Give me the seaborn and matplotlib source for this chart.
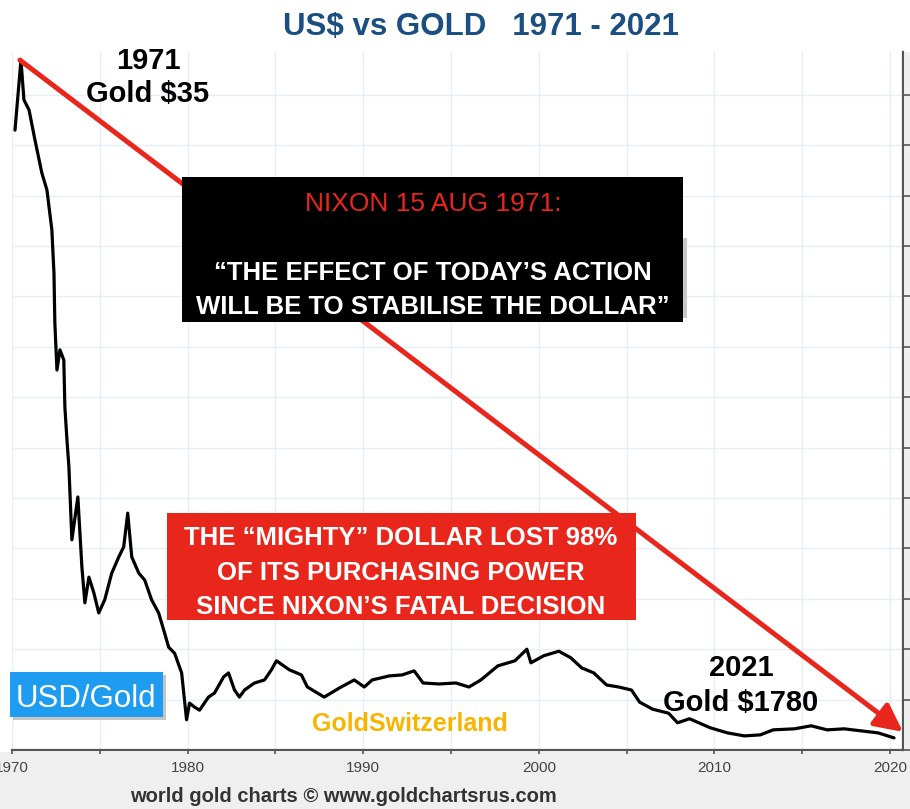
import matplotlib
matplotlib.use("Agg")
import matplotlib.pyplot as plt
from matplotlib.patches import Rectangle
from matplotlib.ticker import MultipleLocator
import seaborn as sns

# ==========================================
# DATA
# ==========================================
years = [1970.17, 1970.51, 1970.68, 1970.97, 1971.31, 1971.70, 1971.99, 1972.27,
         1972.39, 1972.44, 1972.56, 1972.73, 1972.95, 1973.01, 1973.13, 1973.24,
         1973.41, 1973.75, 1973.98, 1974.15, 1974.38, 1974.66, 1974.94, 1975.28,
         1975.68, 1976.08, 1976.36, 1976.59, 1976.82, 1977.22, 1977.56, 1977.95,
         1978.35, 1978.69, 1978.92, 1979.26, 1979.66, 1979.94, 1980.11, 1980.40,
         1980.68, 1981.19, 1981.53, 1982.05, 1982.33, 1982.67, 1982.95, 1983.24,
         1983.81, 1984.38, 1984.77, 1985.06, 1985.80, 1986.48, 1986.82, 1987.78,
         1988.64, 1989.49, 1990.06, 1990.51, 1991.48, 1992.22, 1992.90, 1993.41,
         1994.32, 1995.28, 1996.02, 1996.70, 1997.67, 1998.64, 1999.32, 1999.55,
         2000.28, 2001.14, 2001.82, 2002.44, 2003.13, 2003.86, 2004.55, 2005.28,
         2005.74, 2006.48, 2007.39, 2007.90, 2008.58, 2009.77, 2010.74, 2011.70,
         2012.61, 2013.35, 2014.55, 2015.51, 2016.42, 2017.39, 2018.35, 2019.32,
         2020.23]
usd_gold = [12.30, 13.69, 12.90, 12.70, 12.10, 11.45, 11.11, 10.32,
            9.46, 8.47, 7.54, 7.94, 7.74, 6.81, 6.15, 5.62,
            4.17, 5.02, 3.63, 2.92, 3.43, 3.12, 2.72, 2.98,
            3.51, 3.83, 4.03, 4.70, 3.83, 3.51, 3.37, 2.98,
            2.72, 2.32, 2.04, 1.92, 1.53, 0.60, 0.93, 0.85,
            0.79, 1.05, 1.13, 1.45, 1.53, 1.19, 1.05, 1.19,
            1.33, 1.39, 1.59, 1.77, 1.59, 1.49, 1.25, 1.05,
            1.23, 1.39, 1.25, 1.39, 1.47, 1.49, 1.57, 1.33,
            1.31, 1.33, 1.25, 1.39, 1.67, 1.77, 2.00, 1.73,
            1.87, 1.96, 1.83, 1.63, 1.53, 1.29, 1.25, 1.19,
            0.95, 0.81, 0.73, 0.54, 0.62, 0.44, 0.34, 0.28,
            0.30, 0.40, 0.42, 0.48, 0.40, 0.42, 0.38, 0.34,
            0.24]
x_ticks = [1970, 1980, 1990, 2000, 2010, 2020]
x_ticklabels = ["1970", "1980", "1990", "2000", "2010", "2020"]

title = "US$ vs GOLD   1971 - 2021"
nixon_head = "NIXON 15 AUG 1971:"
nixon_quote = ["\u201cTHE EFFECT OF TODAY\u2019S ACTION",
               "WILL BE TO STABILISE THE DOLLAR\u201d"]
lost_lines = ["THE \u201cMIGHTY\u201d DOLLAR LOST 98%",
              "OF ITS PURCHASING POWER",
              "SINCE NIXON\u2019S FATAL DECISION"]

RED = "#e8261c"
W, H = 910, 809

sns.set_theme(style="whitegrid")
plt.rcParams['font.family'] = ['Liberation Sans', 'DejaVu Sans']

fig = plt.figure(figsize=(W / 100, H / 100), dpi=100, facecolor="white")


def fx(x):
    return x / W


def fy(y):
    return 1 - y / H


# axes placed in pixel terms: left 12, right 903, bottom 750, top 52
ax = fig.add_axes([fx(12), fy(750), (903 - 12) / W, (750 - 52) / H])
ax.set_facecolor("white")

sns.lineplot(x=years, y=usd_gold, color="black", linewidth=2.3, ax=ax, zorder=2)

ax.set_xlim(1970.11, 2020.74)
ax.set_ylim(0, 13.85)

# grid + ticks
ax.xaxis.set_major_locator(MultipleLocator(10))
ax.xaxis.set_minor_locator(MultipleLocator(5))
ax.set_xticks(x_ticks)
ax.set_xticklabels(x_ticklabels)
ax.yaxis.set_major_locator(MultipleLocator(1))
ax.grid(True, which="both", axis="x", color="#e4eff9", linewidth=1)
ax.grid(True, which="major", axis="y", color="#e4eff9", linewidth=1)
ax.tick_params(axis="x", which="both", direction="out", length=3, width=1.2,
               color="#555555", bottom=True, pad=5, labelsize=11, labelcolor="#444444")
ax.tick_params(axis="y", which="major", direction="out", length=5, width=1.2,
               color="#555555", left=False, right=True, labelleft=False, labelright=False)
for s in ["left", "top"]:
    ax.spines[s].set_visible(False)
for s in ["bottom", "right"]:
    ax.spines[s].set_visible(True)
    ax.spines[s].set_color("#555555")
    ax.spines[s].set_linewidth(1.6)
ax.set_xlabel("")
ax.set_ylabel("")

# red arrow from the 1971 peak down to 2021
ax.annotate("", xy=(2020.74, 0.36), xytext=(1970.45, 13.69),
            arrowprops=dict(arrowstyle="-|>", color=RED, lw=3.6,
                            mutation_scale=42, shrinkA=0, shrinkB=0),
            annotation_clip=False, zorder=3)

# grey band below and to the right of the plot
fig.patches.append(Rectangle((0, 0), 1, fy(752), transform=fig.transFigure,
                             facecolor="#efefef", edgecolor="none", zorder=-5))
fig.patches.append(Rectangle((fx(905), 0), 1 - fx(905), fy(52), transform=fig.transFigure,
                             facecolor="#efefef", edgecolor="none", zorder=-5))


def box(x0, y0, x1, y1, color, z=5):
    fig.patches.append(Rectangle((fx(x0), fy(y1)), (x1 - x0) / W, (y1 - y0) / H,
                                 transform=fig.transFigure, facecolor=color,
                                 edgecolor="none", zorder=z))


# black Nixon box (faint shadow on its right edge)
box(683, 238, 687, 318, "#c8c8c8", z=4)
box(182, 177, 683, 322, "black")
fig.text(fx(433), fy(211), nixon_head, color=RED, fontsize=19, ha="center", va="baseline", zorder=6)
fig.text(fx(433), fy(280), nixon_quote[0], color="white", fontsize=18.5, fontweight="bold",
         ha="center", va="baseline", zorder=6)
fig.text(fx(433), fy(314), nixon_quote[1], color="white", fontsize=18.5, fontweight="bold",
         ha="center", va="baseline", zorder=6)

# red "mighty dollar" box
box(167, 513, 636, 620, RED)
for txt, yb in zip(lost_lines, [545, 580, 614]):
    fig.text(fx(401), fy(yb), txt, color="white", fontsize=18.5, fontweight="bold",
             ha="center", va="baseline", zorder=6)

# USD/Gold label
box(13, 675, 166, 720, "#c4c4c4", z=4)
box(10, 672, 163, 717, "#1e9cf0")
fig.text(fx(86), fy(707), "USD/Gold", color="white", fontsize=22.5,
         ha="center", va="baseline", zorder=6)

# annotations
fig.text(fx(481), fy(35), title, color="#1b4f82", fontsize=22.5, fontweight="bold",
         ha="center", va="baseline")
fig.text(fx(148), fy(69), "1971", color="black", fontsize=21, fontweight="bold",
         ha="center", va="baseline", zorder=6)
fig.text(fx(148), fy(102), "Gold $35", color="black", fontsize=21, fontweight="bold",
         ha="center", va="baseline", zorder=6)
fig.text(fx(741), fy(676), "2021", color="black", fontsize=21, fontweight="bold",
         ha="center", va="baseline", zorder=6)
fig.text(fx(741), fy(711), "Gold $1780", color="black", fontsize=21, fontweight="bold",
         ha="center", va="baseline", zorder=6)
fig.text(fx(410), fy(731), "GoldSwitzerland", color="#f7b500", fontsize=18, fontweight="bold",
         ha="center", va="baseline", zorder=6)
fig.text(fx(130), fy(802), "world gold charts \u00a9 www.goldchartsrus.com", color="#333333",
         fontsize=14.5, fontweight="bold", ha="left", va="baseline")

fig.savefig("out.png", dpi=100, facecolor=fig.get_facecolor())
